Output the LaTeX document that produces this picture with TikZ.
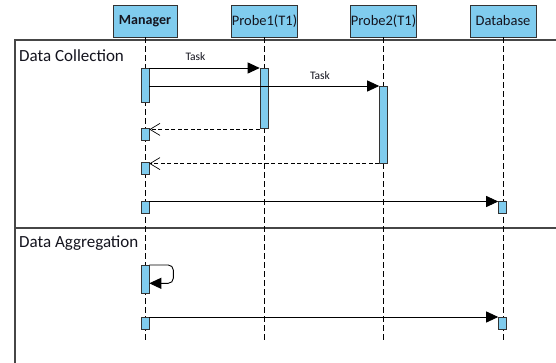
\documentclass[tikz,border=0pt]{standalone}
\usepackage{fontspec}
\setmainfont{Carlito}
\usetikzlibrary{arrows.meta,calc}
\definecolor{boxblue}{RGB}{128,204,238}
\definecolor{framegray}{RGB}{70,70,70}
\definecolor{txt}{RGB}{20,20,30}
\tikzset{
  head/.style={draw=black!80, line width=0.9pt, fill=boxblue, minimum width=64pt, minimum height=32pt, inner sep=0pt, font=\fontsize{14.5}{16}\selectfont, text=txt},
  act/.style={draw=black!80, line width=0.6pt, fill=boxblue, minimum width=8pt, inner sep=0pt, anchor=north},
  life/.style={black, line width=0.6pt, dash pattern=on 6pt off 3pt},
  msg/.style={black, line width=0.9pt, -{Triangle[length=12pt,width=11pt]}},
  ret/.style={black, line width=0.7pt, dash pattern=on 4pt off 2.5pt, -{Straight Barb[length=10pt,width=12pt,line width=0.7pt]}},
  framel/.style={framegray, line width=1.2pt},
  ftitle/.style={anchor=base west, inner sep=0pt, font=\fontsize{17}{20}\selectfont, text=txt},
  tlabel/.style={inner sep=0pt, font=\fontsize{11.5}{13}\selectfont, text=txt}
}
\begin{document}
\begin{tikzpicture}[x=1pt,y=-1pt]
\useasboundingbox[fill=white] (0,0) rectangle (556,363);
% frame
\draw[framel] (556,40) -- (15,40) -- (15,363);
\draw[framel] (15,228) -- (556,228);
\node[ftitle] (t1) at (19,62) {Data Collection};
\node[ftitle] (t2) at (19,247) {Data Aggregation};
% lifelines
\coordinate (bottom) at (0,340);
\node[head, font=\bfseries\fontsize{14}{16}\selectfont] (mgr) at (145,21) {Manager};
\node[head] (pr1) at (264.5,21) {Probe1(T1)};
\node[head] (pr2) at (383.5,21) {Probe2(T1)};
\node[head, minimum width=66pt] (db) at (503,21) {Database};
\draw[life] (mgr.south) -- (mgr.south |- bottom);
\draw[life] (pr1.south) -- (pr1.south |- bottom);
\draw[life] (pr2.south) -- (pr2.south |- bottom);
\draw[life] (db.south) -- (db.south |- bottom);
% activations
\node[act, minimum height=34pt] (m1) at (145,68) {};
\node[act, minimum height=60pt] (p1) at (264,68) {};
\node[act, minimum height=77pt] (p2) at (383.5,86) {};
\node[act, minimum height=12pt] (m2) at (145,128) {};
\node[act, minimum height=11.5pt] (m3) at (145,162.5) {};
\node[act, minimum height=11.5pt] (m4) at (145,201.5) {};
\node[act, minimum height=11.5pt] (d1) at (502.5,201.5) {};
\node[act, minimum height=28pt] (s1) at (145,265) {};
\node[act, minimum height=11.5pt] (m5) at (145,317) {};
\node[act, minimum height=11.5pt] (d2) at (502.5,317) {};
% messages
\draw[msg] (m1.north east) -- (p1.north west);
\node[tlabel] (l1) at (195.5,57) {Task};
\draw[msg] (m1.east |- p2.north) -- (p2.north west);
\node[tlabel] (l2) at (320,76) {Task};
\draw[ret] ([yshift=-0.8pt]p1.south west) -- ([yshift=-0.8pt]p1.south west -| m2.east);
\draw[ret] (p2.south west) -- (p2.south west -| m3.east);
\draw[msg] (m4.north east) -- (d1.north west);
\draw[msg, rounded corners=5pt] (s1.north east) -- ++(24,0) |- ([yshift=-4pt]s1.east);
\draw[msg] (m5.north east) -- (d2.north west);
\end{tikzpicture}
\end{document}
